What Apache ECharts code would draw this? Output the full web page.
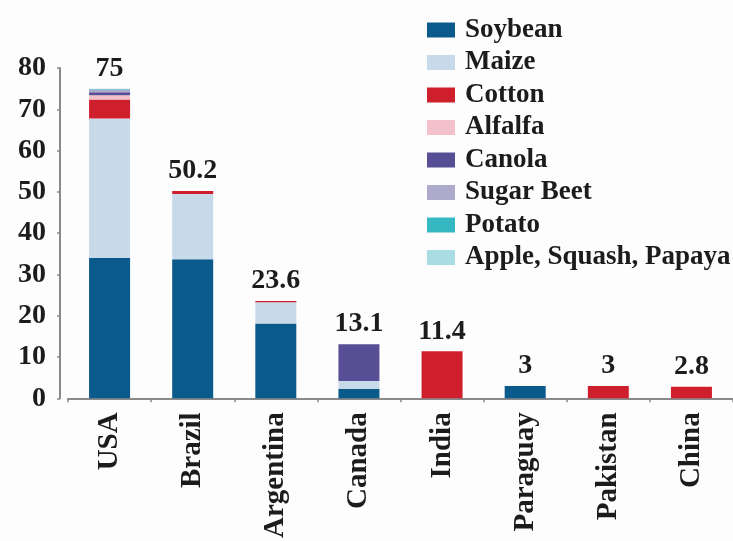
<!DOCTYPE html>
<html>
<head>
<meta charset="utf-8">
<script src="https://cdn.jsdelivr.net/npm/echarts@6/dist/echarts.min.js"></script>
<style>
  html, body { margin: 0; padding: 0; background: #fdfdfd; }
  #chart { width: 733px; height: 541px; }
</style>
</head>
<body>
<div id="chart"></div>
<script>
const categories = ['USA', 'Brazil', 'Argentina', 'Canada', 'India', 'Paraguay', 'Pakistan', 'China'];
const soybean   = [34.0, 33.7, 18.1, 2.3, 0, 3.0, 0, 0];
const maize     = [33.8, 15.8, 5.2, 1.9, 0, 0, 0, 0];
const cotton    = [4.6, 0.7, 0.3, 0, 11.4, 0, 3.0, 2.8];
const alfalfa   = [1.0, 0, 0, 0, 0, 0, 0, 0];
const canola    = [0.7, 0, 0, 8.9, 0, 0, 0, 0];
const sugarBeet = [0.7, 0, 0, 0, 0, 0, 0, 0];
const potato    = [0.1, 0, 0, 0, 0, 0, 0, 0];
const apple     = [0.1, 0, 0, 0, 0, 0, 0, 0];
const totals    = [75, 50.2, 23.6, 13.1, 11.4, 3, 3, 2.8];
const yTicks    = [0, 10, 20, 30, 40, 50, 60, 70, 80];

const seriesNames = ['Soybean', 'Maize', 'Cotton', 'Alfalfa', 'Canola', 'Sugar Beet', 'Potato', 'Apple, Squash, Papaya'];
const seriesData = [soybean, maize, cotton, alfalfa, canola, sugarBeet, potato, apple];
const colors = ['#0b5a8c', '#c8d9e9', '#d01f2c', '#f3c1c9', '#574e96', '#adaacb', '#35b8c2', '#a9dde3'];

const FONT = '"Liberation Serif", "DejaVu Serif", serif';
const TXT = '#1c1c1c';

const series = seriesNames.map((n, i) => ({
  name: n,
  type: 'bar',
  stack: 'total',
  barWidth: 41,
  data: seriesData[i],
  itemStyle: { color: colors[i] },
  emphasis: { disabled: true }
}));
series.push({
  name: 'Total',
  type: 'bar',
  stack: 'total',
  barWidth: 41,
  data: categories.map(() => 0),
  itemStyle: { color: 'transparent' },
  label: {
    show: true,
    position: 'top',
    distance: 6,
    formatter: p => String(totals[p.dataIndex]),
    fontFamily: FONT,
    fontSize: 28,
    fontWeight: 'bold',
    color: TXT
  }
});

const chart = echarts.init(document.getElementById('chart'), null, { renderer: 'canvas' });
chart.setOption({
  backgroundColor: '#fdfdfd',
  animation: false,
  color: colors,
  grid: { left: 68, right: 0, top: 68, bottom: 142, containLabel: false },
  legend: {
    data: seriesNames,
    orient: 'vertical',
    left: 422,
    top: 11,
    itemWidth: 28,
    itemHeight: 15,
    itemGap: 4.5,
    icon: 'rect',
    textStyle: { fontFamily: FONT, fontSize: 27, fontWeight: 'bold', color: TXT, padding: [0, 0, 0, 5], lineHeight: 28 }
  },
  xAxis: {
    type: 'category',
    data: categories,
    axisLine: { lineStyle: { color: '#8a8a8a', width: 2 } },
    axisTick: { show: true, length: 4, lineStyle: { color: '#8a8a8a', width: 1.5 } },
    axisLabel: { rotate: 90, margin: 14, fontFamily: FONT, fontSize: 29, fontWeight: 'bold', color: TXT }
  },
  yAxis: {
    type: 'value',
    min: yTicks[0],
    max: yTicks[yTicks.length - 1],
    interval: 10,
    offset: 8,
    splitLine: { show: false },
    axisLine: { show: true, lineStyle: { color: '#8a8a8a', width: 2 } },
    axisTick: { show: true, length: 3, lineStyle: { color: '#8a8a8a', width: 1.5 } },
    axisLabel: { margin: 14, fontFamily: FONT, fontSize: 28, fontWeight: 'bold', color: TXT }
  },
  series: series
});
</script>
</body>
</html>
